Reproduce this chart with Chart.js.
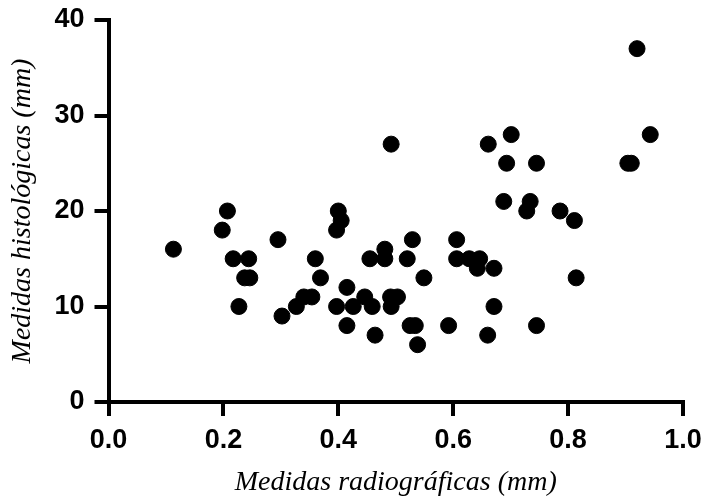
<!DOCTYPE html>
<html>
<head>
<meta charset="utf-8">
<script src="https://cdn.jsdelivr.net/npm/chart.js@4/dist/chart.umd.min.js"></script>
<style>
  html, body { margin: 0; padding: 0; background: #fff; }
  #c { display: block; }
</style>
</head>
<body>
<canvas id="c" width="705" height="499"></canvas>
<script>
// Medidas radiográficas (mm) vs histológicas (mm)
const radiograficas = [
  0.113, 0.198, 0.207, 0.217, 0.244, 0.237, 0.246, 0.227, 0.295, 0.302,
  0.327, 0.340, 0.354, 0.360, 0.369, 0.397, 0.400, 0.405, 0.397, 0.415,
  0.415, 0.426, 0.446, 0.455, 0.459, 0.464, 0.481, 0.481, 0.492, 0.491,
  0.492, 0.503, 0.520, 0.529, 0.525, 0.534, 0.538, 0.549, 0.592, 0.606,
  0.606, 0.628, 0.642, 0.646, 0.661, 0.660, 0.671, 0.671, 0.688, 0.693,
  0.701, 0.728, 0.734, 0.745, 0.745, 0.786, 0.811, 0.814, 0.904, 0.910,
  0.920, 0.943
];
const histologicas = [
  16, 18, 20, 15, 15, 13, 13, 10, 17, 9,
  10, 11, 11, 15, 13, 18, 20, 19, 10, 12,
  8, 10, 11, 15, 10, 7, 16, 15, 27, 11,
  10, 11, 15, 17, 8, 8, 6, 13, 8, 17,
  15, 15, 14, 15, 27, 7, 14, 10, 21, 25,
  28, 20, 21, 25, 8, 20, 19, 13, 25, 25,
  37, 28
];
const xTicks = [0, 0.2, 0.4, 0.6, 0.8, 1.0];
const yTicks = [0, 10, 20, 30, 40];

const points = radiograficas.map((x, i) => ({ x, y: histologicas[i] }));

const tickFont = { family: "'Liberation Sans', Arial, sans-serif", size: 27, weight: 'bold' };
const titleFont = { family: "'Liberation Serif', 'Times New Roman', serif", size: 28, style: 'italic' };

new Chart(document.getElementById('c'), {
  type: 'scatter',
  data: {
    datasets: [{
      data: points,
      backgroundColor: '#000',
      borderColor: '#000',
      pointRadius: 8,
      pointHoverRadius: 8,
      clip: false,
    }],
  },
  options: {
    responsive: false,
    animation: false,
    layout: { padding: { top: 20, right: 22, left: 6, bottom: 0 } },
    plugins: { legend: { display: false }, tooltip: { enabled: false } },
    scales: {
      x: {
        type: 'linear',
        min: 0, max: 1,
        afterBuildTicks: s => { s.ticks = xTicks.map(v => ({ value: v })); },
        afterFit: s => {
          s.height = 97;
          s.paddingLeft = 0; s.paddingRight = 0;
        },
        ticks: {
          color: '#000', font: tickFont, padding: 8,
          callback: v => v.toFixed(1),
        },
        grid: {
          drawOnChartArea: false, drawTicks: true, tickLength: 14,
          color: '#000', lineWidth: 4,
        },
        border: { display: true, color: '#000', width: 4 },
        title: {
          display: true, text: 'Medidas radiográficas (mm)',
          color: '#000', font: titleFont, padding: 0,
        },
      },
      y: {
        type: 'linear',
        min: 0, max: 40,
        afterBuildTicks: s => { s.ticks = yTicks.map(v => ({ value: v })); },
        afterFit: s => {
          s.width = 102.5;
          s.paddingTop = 0; s.paddingBottom = 0;
        },
        ticks: { color: '#000', font: tickFont, padding: 10 },
        grid: {
          drawOnChartArea: false, drawTicks: true, tickLength: 14,
          color: '#000', lineWidth: 4,
        },
        border: { display: true, color: '#000', width: 4 },
        title: {
          display: true, text: 'Medidas histológicas (mm)',
          color: '#000', font: titleFont, padding: 0,
        },
      },
    },
  },
});
</script>
</body>
</html>
